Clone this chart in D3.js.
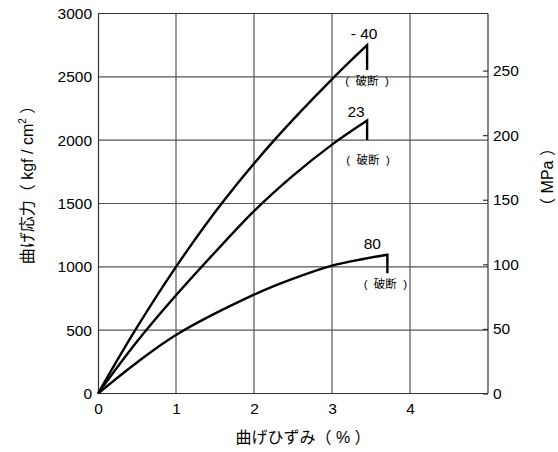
<!DOCTYPE html>
<html>
<head>
<meta charset="utf-8">
<script src="https://cdn.jsdelivr.net/npm/d3@7"></script>
<style>
  body { margin: 0; background: #fff; }
  text { font-family: "Liberation Sans", Arial, "Noto Sans CJK JP", sans-serif; fill: #000; }
  .grid line { stroke: #555; stroke-width: 1.2; }
  .axis path, .axis line { stroke: #333; stroke-width: 1.2; }
</style>
</head>
<body>
<div id="chart"></div>
<script>
// strain (%) vs bending stress (kgf/cm2), one pair per temperature
const strainM40 = [0, 0.477, 1.0, 1.585, 2.26, 3.03, 3.45];
const stressM40 = [0, 500, 1000, 1500, 2000, 2500, 2750];
const strain23 = [0, 0.5, 1.0, 1.5, 2.0, 2.5, 3.0, 3.45];
const stress23 = [0, 410, 775, 1115, 1440, 1720, 1965, 2155];
const strain80 = [0, 0.5, 1.0, 2.0, 2.46, 3.0, 3.4, 3.71];
const stress80 = [0, 245, 462, 780, 897, 1010, 1062, 1095];
const tempLabels = ['- 40', '23', '80'];
const breakStress = [2554, 2001, 950];
const breakText = '(  破断  )';

const xTicks = [0, 1, 2, 3, 4];
const yTicks = [0, 500, 1000, 1500, 2000, 2500, 3000];
const mpaTicks = [0, 50, 100, 150, 200, 250];
const KGF_PER_MPA = 10.197;

const W = 558, H = 452;
const svg = d3.select('#chart').append('svg').attr('width', W).attr('height', H);

const x = d3.scaleLinear().domain([0, 5]).range([98, 488]);
const y = d3.scaleLinear().domain([0, 3000]).range([393.5, 13.5]);
const yMpa = d3.scaleLinear().domain([0, 3000 / KGF_PER_MPA]).range([393.5, 13.5]);
const fmt = d3.format('d');

// grid
const grid = svg.append('g').attr('class', 'grid');
grid.selectAll('.gx').data([1, 2, 3, 4]).enter().append('line')
  .attr('x1', d => x(d)).attr('x2', d => x(d))
  .attr('y1', y(0)).attr('y2', y(3000));
grid.selectAll('.gy').data([500, 1000, 1500, 2000, 2500]).enter().append('line')
  .attr('x1', x(0)).attr('x2', x(5))
  .attr('y1', d => y(d)).attr('y2', d => y(d));

// axes
svg.append('g').attr('class', 'axis')
  .attr('transform', `translate(0,${y(0)})`)
  .call(d3.axisBottom(x).tickValues(xTicks).tickFormat(fmt).tickSize(0).tickPadding(9).tickSizeOuter(0))
  .call(g => g.select('.domain').attr('d', `M${x(0)},0H${x(5)}`));
svg.append('g').attr('class', 'axis')
  .attr('transform', `translate(${x(0)},0)`)
  .call(d3.axisLeft(y).tickValues(yTicks).tickFormat(fmt).tickSize(0).tickPadding(6).tickSizeOuter(0));
svg.append('g').attr('class', 'axis')
  .attr('transform', `translate(${x(5)},0)`)
  .call(d3.axisRight(yMpa).tickValues(mpaTicks).tickFormat(fmt).tickSize(-5).tickPadding(5).tickSizeOuter(0))
  .call(g => g.select('.domain').attr('d', `M0,${y(0)}V${y(3000)}`));
svg.append('line')
  .attr('x1', x(0)).attr('x2', x(5)).attr('y1', y(3000)).attr('y2', y(3000))
  .attr('stroke', '#333').attr('stroke-width', 1.2);
svg.selectAll('.axis text').attr('font-size', 15.5);

// curves
const series = [
  { xs: strainM40, ys: stressM40 },
  { xs: strain23, ys: stress23 },
  { xs: strain80, ys: stress80 }
];
const line = d3.line().x(d => x(d[0])).y(d => y(d[1])).curve(d3.curveCatmullRom.alpha(0.5));
const labelOff = [[-3, -6], [-11, -4], [-15, -6]];
const breakOff = [[0, 15], [1, 24], [-2, 15]];

series.forEach((s, i) => {
  const pts = s.xs.map((v, j) => [v, s.ys[j]]);
  const last = pts[pts.length - 1];
  const curvePath = line(pts) + `V${y(breakStress[i])}`;
  svg.append('path').attr('d', curvePath)
    .attr('fill', 'none').attr('stroke', '#000').attr('stroke-width', 2.4)
    .attr('stroke-linejoin', 'miter');
  svg.append('text')
    .attr('x', x(last[0]) + labelOff[i][0]).attr('y', y(last[1]) + labelOff[i][1])
    .attr('text-anchor', 'middle').attr('font-size', 15.5).text(tempLabels[i]);
  svg.append('text')
    .attr('x', x(last[0]) + breakOff[i][0]).attr('y', y(breakStress[i]) + breakOff[i][1])
    .attr('text-anchor', 'middle').attr('font-size', 11.5)
    .style('white-space', 'pre').text(breakText);
});

// axis titles
svg.append('text').attr('x', 303).attr('y', 443).attr('text-anchor', 'middle')
  .attr('font-size', 16).text('曲げひずみ（ % ）');
const yt = svg.append('text').attr('transform', 'translate(33,181) rotate(-90)')
  .attr('text-anchor', 'middle').attr('font-size', 16);
yt.append('tspan').text('曲げ応力（ kgf / cm');
yt.append('tspan').attr('font-size', 10).attr('dy', -7).text('2');
yt.append('tspan').attr('dy', 7).text(' ）');
svg.append('text').attr('transform', 'translate(547,177) rotate(-90)')
  .attr('text-anchor', 'middle').attr('dy', '0.35em').attr('font-size', 16).text('（ MPa ）');
</script>
</body>
</html>
